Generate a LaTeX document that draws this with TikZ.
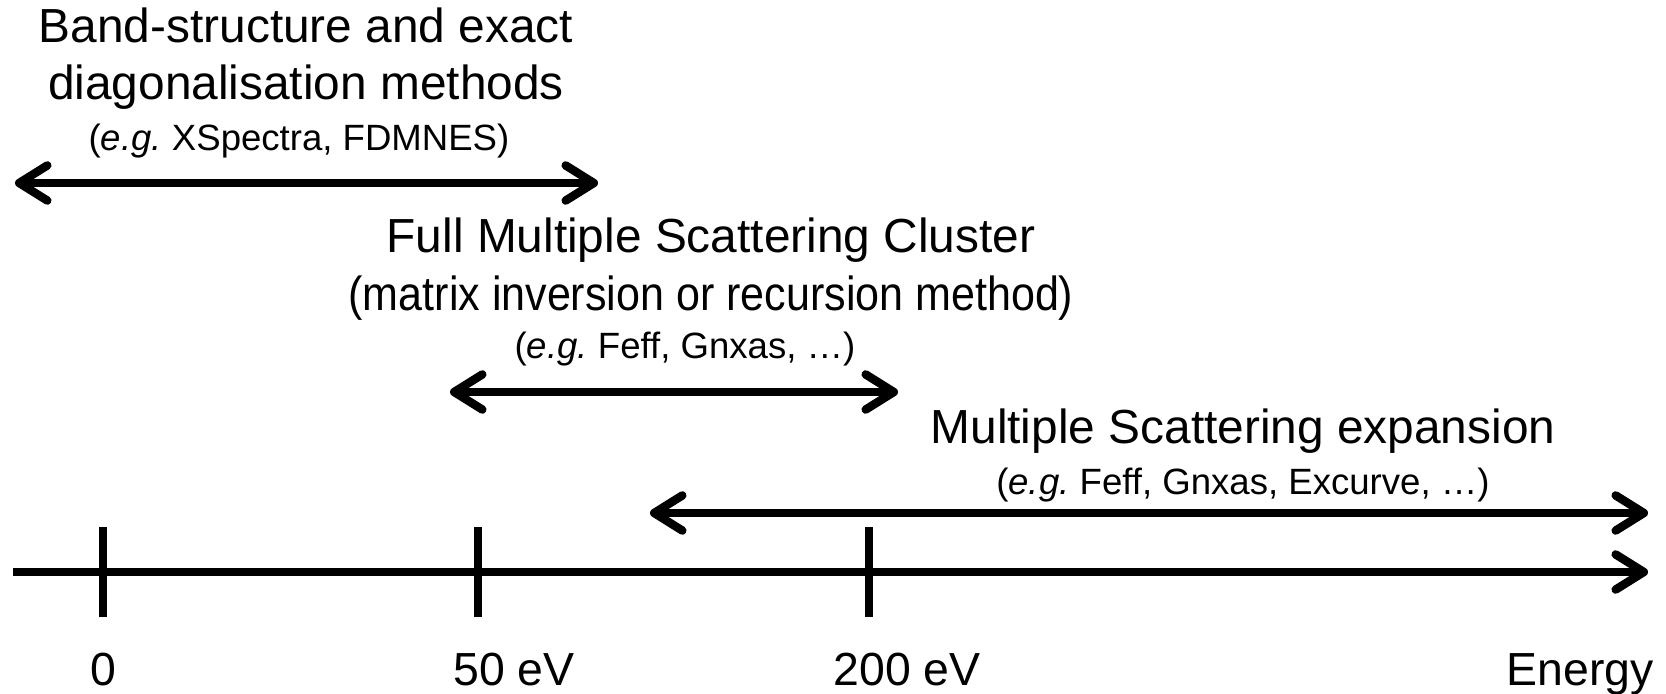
\documentclass[tikz,border=0pt]{standalone}
\usepackage{fontspec}
\setmainfont{Liberation Sans}
\usetikzlibrary{arrows.meta, positioning}

\begin{document}
\begin{tikzpicture}[
    x=0.01cm, y=-0.01cm,
    vbarb/.tip={Straight Barb[length=8pt, width=10pt, round]},
    spanarrow/.style={vbarb-vbarb, line width=2.4pt},
    energyaxis/.style={-vbarb, line width=2.4pt},
    tickline/.style={line width=2.4pt},
    title/.style={font=\fontsize{13.6}{16}\selectfont, anchor=base, inner sep=0pt},
    note/.style={font=\fontsize{10.4}{12.5}\selectfont, anchor=base, inner sep=0pt},
    ticklabel/.style={font=\fontsize{13.2}{15}\selectfont, anchor=base, inner sep=0pt}
]
    \useasboundingbox (0,0) rectangle (1666,694);

    % energy axis and ticks
    \coordinate (ax0) at (13,572);
    \coordinate (ax1) at (1648,572);
    \draw[energyaxis] (ax0) -- (ax1);
    \foreach \x/\name in {103/t0, 478/t50, 869/t200} {
        \coordinate (\name top) at (\x,527);
        \coordinate (\name bot) at (\x,617);
        \draw[tickline] (\name top) -- (\name bot);
    }
    \node[ticklabel] (l0) at (103,685) {0};
    \node[ticklabel] (l50) at (514,685) {50 eV};
    \node[ticklabel] (l200) at (907,685) {200 eV};
    \node[ticklabel] (lE) at (1580,685) {Energy};

    % band structure / exact diagonalisation
    \node[title] (bandA) at (306,42) {Band-structure and exact};
    \node[title] (bandB) at (306,99) {diagonalisation methods};
    \node[note] (bandEx) at (299,150) {({\itshape e.g.}\ XSpectra, FDMNES)};
    \coordinate (bandL) at (15,183);
    \coordinate (bandR) at (598,183);
    \draw[spanarrow] (bandL) -- (bandR);

    % full multiple scattering
    \node[title] (fmsA) at (711,252) {Full Multiple Scattering Cluster};
    \node[title, xscale=0.9] (fmsB) at (711,310) {(matrix inversion or recursion method)};
    \node[note] (fmsEx) at (685,358) {({\itshape e.g.}\ Feff, Gnxas, …)};
    \coordinate (fmsL) at (450,392);
    \coordinate (fmsR) at (898,392);
    \draw[spanarrow] (fmsL) -- (fmsR);

    % multiple scattering expansion
    \node[title] (msA) at (1243,443) {Multiple Scattering expansion};
    \node[note] (msEx) at (1243,494) {({\itshape e.g.}\ Feff, Gnxas, Excurve, …)};
    \coordinate (msL) at (650,513);
    \coordinate (msR) at (1648,513);
    \draw[spanarrow] (msL) -- (msR);
\end{tikzpicture}
\end{document}
